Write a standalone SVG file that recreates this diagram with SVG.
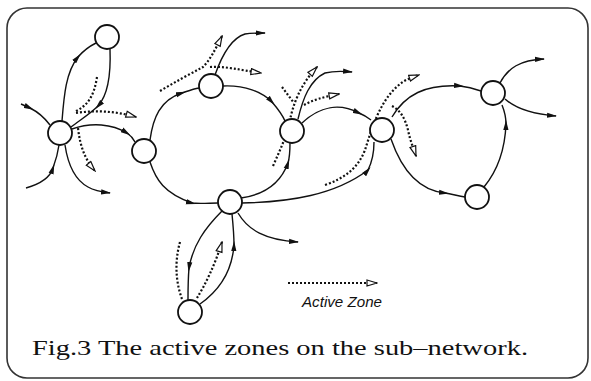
<svg xmlns="http://www.w3.org/2000/svg" width="591" height="381" viewBox="0 0 591 381">
<defs>
<marker id="fa" viewBox="0 0 10 6" refX="6" refY="3" markerWidth="10" markerHeight="6" markerUnits="userSpaceOnUse" orient="auto"><path d="M0,0.4 L10,3 L0,5.6 Z" fill="#111"/></marker>
<marker id="fe" viewBox="0 0 10 6" refX="9" refY="3" markerWidth="10" markerHeight="6" markerUnits="userSpaceOnUse" orient="auto"><path d="M0,0.4 L10,3 L0,5.6 Z" fill="#111"/></marker>
<marker id="oa" viewBox="-1 -1 12 8" refX="10" refY="3" markerWidth="12" markerHeight="8" markerUnits="userSpaceOnUse" orient="auto"><path d="M0,0 L10,3 L0,6 Z" fill="#fff" stroke="#111" stroke-width="1.2"/></marker>
</defs>
<style>
.frame{fill:none;stroke:#333;stroke-width:1.6}
.node circle{fill:#fff;stroke:#111;stroke-width:1.8}
.s{fill:none;stroke:#111;stroke-width:1.4}
.m{marker-mid:url(#fa)}
.e{marker-end:url(#fe)}
.d{fill:none;stroke:#111;stroke-width:2.2;stroke-dasharray:2 2}
.o{marker-end:url(#oa)}
.cap{font-family:"Liberation Serif","DejaVu Serif",serif;font-size:21px;fill:#111}
.leg{font-family:"Liberation Sans",Arial,sans-serif;font-style:italic;font-size:14px;fill:#111}
</style>
<rect class="frame" x="7" y="8" width="581" height="370" rx="20" ry="20"/>
<g id="connectors">
<path class="s m" d="M62,121 C64,95 66,72 78,57 C84,50 90,46 96,43"/>
<path class="s m" d="M110,49 C111,75 108,95 98,106 C90,114 80,120 71,127"/>
<path class="s m" d="M21,104 L30,108 C38,112 44,117 50,125"/>
<path class="s m" d="M72,129 C92,122 112,124 127,133 C130,135 133,138 135,142"/>
<path class="s m" d="M26,188 C40,184 50,178 53,168 C56,160 58,152 59,145"/>
<path class="s e" d="M65,145 C68,165 75,180 88,187 C95,191 102,192 110,193"/>
<path class="s m" d="M150,140 C153,118 160,100 182,93 C188,91 193,89 199,88"/>
<path class="s m" d="M223,86 C245,85 262,92 272,102 C278,109 282,114 285,121"/>
<path class="s m" d="M150,162 C156,180 164,193 192,203 C200,204 210,203 218,203"/>
<path class="s m" d="M241,198 C262,195 280,185 288,163 C290,156 290,150 290,143"/>
<path class="s m" d="M242,203 C290,202 335,195 368,170 C372,162 374,152 374,142"/>
<path class="s m" d="M302,123 C320,106 340,103 359,113 C364,115 367,117 371,120"/>
<path class="s e" d="M298,119 C303,98 310,80 325,73 C333,71 342,71 352,72"/>
<path class="s e" d="M215,75 C222,55 232,38 245,34 C251,33 257,33 265,33"/>
<path class="s m" d="M392,117 C405,95 425,84 460,86 C468,87 475,89 481,91"/>
<path class="s m" d="M391,139 C400,165 415,190 445,193 C452,194 458,196 465,197"/>
<path class="s m" d="M484,187 C498,170 505,150 506,124 C506,116 504,110 502,105"/>
<path class="s e" d="M500,83 C508,68 520,60 544,59"/>
<path class="s e" d="M505,99 C515,108 530,114 556,116"/>
<path class="s e" d="M238,213 C248,230 265,240 298,242"/>
<path class="s m" d="M222,211 C205,228 193,245 189,268 C188,280 188,290 188,300"/>
<path class="s m" d="M200,304 C220,290 232,272 234,245 C234,235 233,224 232,214"/>
<path class="d" d="M97,77 C94,96 88,106 74,112"/>
<path class="d o" d="M76,113 C95,110 115,111 136,117"/>
<path class="d o" d="M78,128 C80,145 84,158 95,171"/>
<path class="d o" d="M160,91 C175,82 190,74 203,67 C210,60 215,50 222,36"/>
<path class="d o" d="M210,67 C225,66 240,70 261,73"/>
<path class="d" d="M282,87 L294,103"/>
<path class="d o" d="M273,166 C280,150 286,138 290,120 C293,105 300,85 317,67"/>
<path class="d o" d="M304,105 C313,100 323,97 339,94"/>
<path class="d o" d="M325,185 C345,178 358,168 365,150 C372,128 380,100 400,84 C405,80 410,78 419,75"/>
<path class="d o" d="M392,106 C400,110 405,118 408,130 C410,140 413,147 416,156"/>
<path class="d" d="M180,242 C175,260 175,280 182,299"/>
<path class="d o" d="M197,298 C205,285 215,265 222,242"/>
</g>
<g id="n1" class="node"><circle cx="107" cy="37" r="12"/></g>
<g id="n2" class="node"><circle cx="60" cy="133" r="12"/></g>
<g id="n3" class="node"><circle cx="144" cy="151" r="12"/></g>
<g id="n4" class="node"><circle cx="211" cy="86" r="12"/></g>
<g id="n5" class="node"><circle cx="292" cy="131" r="12"/></g>
<g id="n6" class="node"><circle cx="382" cy="130" r="12"/></g>
<g id="n7" class="node"><circle cx="493" cy="93" r="12"/></g>
<g id="n8" class="node"><circle cx="477" cy="197" r="12"/></g>
<g id="n9" class="node"><circle cx="230" cy="202" r="12"/></g>
<g id="n10" class="node"><circle cx="190" cy="312" r="12"/></g>
<g id="legend">
<path class="d o" d="M288,283 L377,283"/>
<text class="leg" x="302" y="307" textLength="80" lengthAdjust="spacingAndGlyphs">Active Zone</text>
</g>
<text class="cap" x="32" y="355" textLength="496" lengthAdjust="spacingAndGlyphs">Fig.3 The active zones on the sub–network.</text>
</svg>
